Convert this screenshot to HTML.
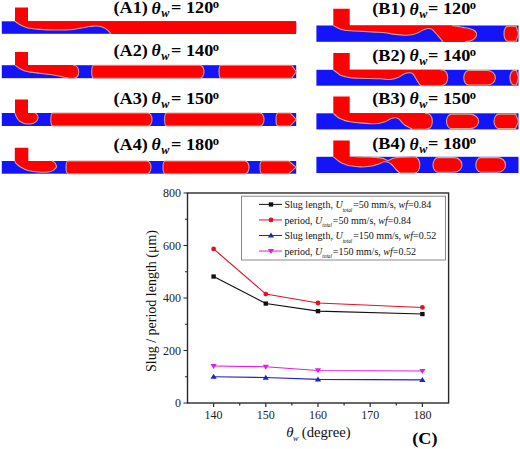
<!DOCTYPE html>
<html><head><meta charset="utf-8"><style>
html,body{margin:0;padding:0;background:#fff;}
body{width:520px;height:449px;overflow:hidden;}
svg{display:block;font-family:"Liberation Serif",serif;}
.tt{font-size:17.3px;font-weight:bold;fill:#000;}
.tl{font-size:12px;fill:#222;}
.ax{font-size:14px;fill:#111;}
.lg{font-size:10.5px;fill:#111;}
</style></head><body>
<svg width="520" height="449" viewBox="0 0 520 449">
<rect x="1.8" y="21.3" width="294.4" height="12.499999999999996" fill="#1414f8"/>
<rect x="1.8" y="65.2" width="294.4" height="13.0" fill="#1414f8"/>
<rect x="1.8" y="113.0" width="294.4" height="13.0" fill="#1414f8"/>
<rect x="1.8" y="161.0" width="294.4" height="12.699999999999989" fill="#1414f8"/>
<path d="M15,7.6 H28 V21.3 H294.2 Q296.2,21.3 296.2,23.3 V31.799999999999997 Q296.2,33.8 294.2,33.8 H111 C110.50,33.27 109.17,31.62 108.00,30.60 C106.83,29.58 105.83,28.47 104.00,27.70 C102.17,26.93 99.33,26.20 97.00,26.00 C94.67,25.80 92.83,26.12 90.00,26.50 C87.17,26.88 83.33,27.75 80.00,28.30 C76.67,28.85 74.17,29.52 70.00,29.80 C65.83,30.08 60.00,30.07 55.00,30.00 C50.00,29.93 44.17,29.68 40.00,29.40 C35.83,29.12 32.50,28.72 30.00,28.30 C27.50,27.88 26.67,27.48 25.00,26.90 C23.33,26.32 21.67,25.73 20.00,24.80 C18.33,23.87 15.83,21.88 15.00,21.30 Z" fill="#fe0000" stroke="none" stroke-width="1.1"/>
<path d="M111.00,33.80 C110.50,33.27 109.17,31.62 108.00,30.60 C106.83,29.58 105.83,28.47 104.00,27.70 C102.17,26.93 99.33,26.20 97.00,26.00 C94.67,25.80 92.83,26.12 90.00,26.50 C87.17,26.88 83.33,27.75 80.00,28.30 C76.67,28.85 74.17,29.52 70.00,29.80 C65.83,30.08 60.00,30.07 55.00,30.00 C50.00,29.93 44.17,29.68 40.00,29.40 C35.83,29.12 32.50,28.72 30.00,28.30 C27.50,27.88 26.67,27.48 25.00,26.90 C23.33,26.32 21.67,25.73 20.00,24.80 C18.33,23.87 15.83,21.88 15.00,21.30" fill="none" stroke="#cfa494" stroke-width="1.1"/>
<path d="M15,52.0 H28 V65.2 H73 C77,65.2 78.7,68.5 78.7,71.7 C78.7,75 77,78.2 73,78.2 H69 C68.50,78.10 67.50,77.93 66.00,77.60 C64.50,77.27 62.67,76.72 60.00,76.20 C57.33,75.68 53.33,74.98 50.00,74.50 C46.67,74.02 43.33,73.70 40.00,73.30 C36.67,72.90 32.50,72.48 30.00,72.10 C27.50,71.72 26.67,71.57 25.00,71.00 C23.33,70.43 21.67,69.67 20.00,68.70 C18.33,67.73 15.83,65.78 15.00,65.20 Z" fill="#fe0000" stroke="none" stroke-width="1.1"/>
<path d="M15,65.2 C15.83,65.78 18.33,67.73 20.00,68.70 C21.67,69.67 23.33,70.43 25.00,71.00 C26.67,71.57 27.50,71.72 30.00,72.10 C32.50,72.48 36.67,72.90 40.00,73.30 C43.33,73.70 46.67,74.02 50.00,74.50 C53.33,74.98 57.33,75.68 60.00,76.20 C62.67,76.72 64.50,77.27 66.00,77.60 C67.50,77.93 68.50,78.10 69.00,78.20 H73 C77,78.2 78.7,75 78.7,71.7 C78.7,68.5 77,65.2 73,65.2" fill="none" stroke="#cfa494" stroke-width="1.1"/>
<path d="M93.90,65.20 H200.00 C202.20,65.20 204.00,68.12 204.00,71.70 C204.00,75.28 202.20,78.20 200.00,78.20 H93.90 C92.69,78.20 91.70,75.28 91.70,71.70 C91.70,68.12 92.69,65.20 93.90,65.20 Z" fill="#fe0000" stroke="#cfa494" stroke-width="1.1"/>
<path d="M221.20,65.20 H291.70 L296.20,71.70 L291.70,78.20 H221.20 C219.99,78.20 219.00,75.28 219.00,71.70 C219.00,68.12 219.99,65.20 221.20,65.20 Z" fill="#fe0000" stroke="#cfa494" stroke-width="1.1"/>
<path d="M15,99.6 H28 V113.0 H35 C35.33,113.25 36.50,113.83 37.00,114.50 C37.50,115.17 38.00,116.00 38.00,117.00 C38.00,118.00 37.67,119.50 37.00,120.50 C36.33,121.50 35.17,122.42 34.00,123.00 C32.83,123.58 31.50,123.88 30.00,124.00 C28.50,124.12 26.50,124.03 25.00,123.70 C23.50,123.37 22.17,122.70 21.00,122.00 C19.83,121.30 18.83,120.50 18.00,119.50 C17.17,118.50 16.50,117.08 16.00,116.00 C15.50,114.92 15.17,113.50 15.00,113.00 Z" fill="#fe0000" stroke="none" stroke-width="1.1"/>
<path d="M15,113.0 C15.17,113.50 15.50,114.92 16.00,116.00 C16.50,117.08 17.17,118.50 18.00,119.50 C18.83,120.50 19.83,121.30 21.00,122.00 C22.17,122.70 23.50,123.37 25.00,123.70 C26.50,124.03 28.50,124.12 30.00,124.00 C31.50,123.88 32.83,123.58 34.00,123.00 C35.17,122.42 36.33,121.50 37.00,120.50 C37.67,119.50 38.00,118.00 38.00,117.00 C38.00,116.00 37.50,115.17 37.00,114.50 C36.50,113.83 35.33,113.25 35.00,113.00" fill="none" stroke="#cfa494" stroke-width="1.1"/>
<path d="M53.00,113.00 H148.00 C150.20,113.00 152.00,115.92 152.00,119.50 C152.00,123.08 150.20,126.00 148.00,126.00 H53.00 C51.79,126.00 50.80,123.08 50.80,119.50 C50.80,115.92 51.79,113.00 53.00,113.00 Z" fill="#fe0000" stroke="#cfa494" stroke-width="1.1"/>
<path d="M166.80,113.00 H260.00 C262.20,113.00 264.00,115.92 264.00,119.50 C264.00,123.08 262.20,126.00 260.00,126.00 H166.80 C165.59,126.00 164.60,123.08 164.60,119.50 C164.60,115.92 165.59,113.00 166.80,113.00 Z" fill="#fe0000" stroke="#cfa494" stroke-width="1.1"/>
<path d="M278.20,113.00 H290.20 L296.20,119.50 L290.20,126.00 H278.20 C276.99,126.00 276.00,123.08 276.00,119.50 C276.00,115.92 276.99,113.00 278.20,113.00 Z" fill="#fe0000" stroke="#cfa494" stroke-width="1.1"/>
<path d="M14.8,147.7 H28.3 V161.0 H52 C52.50,161.33 54.25,162.02 55.00,163.00 C55.75,163.98 56.67,165.77 56.50,166.90 C56.33,168.03 55.08,169.00 54.00,169.80 C52.92,170.60 52.33,171.30 50.00,171.70 C47.67,172.10 43.67,172.40 40.00,172.20 C36.33,172.00 31.33,171.40 28.00,170.50 C24.67,169.60 22.00,168.00 20.00,166.80 C18.00,165.60 16.87,164.27 16.00,163.30 C15.13,162.33 15.00,161.38 14.80,161.00 Z" fill="#fe0000" stroke="none" stroke-width="1.1"/>
<path d="M14.8,161.0 C15.00,161.38 15.13,162.33 16.00,163.30 C16.87,164.27 18.00,165.60 20.00,166.80 C22.00,168.00 24.67,169.60 28.00,170.50 C31.33,171.40 36.33,172.00 40.00,172.20 C43.67,172.40 47.67,172.10 50.00,171.70 C52.33,171.30 52.92,170.60 54.00,169.80 C55.08,169.00 56.33,168.03 56.50,166.90 C56.67,165.77 55.75,163.98 55.00,163.00 C54.25,162.02 52.50,161.33 52.00,161.00" fill="none" stroke="#cfa494" stroke-width="1.1"/>
<path d="M68.20,161.00 H147.00 C149.20,161.00 151.00,163.86 151.00,167.35 C151.00,170.84 149.20,173.70 147.00,173.70 H68.20 C66.99,173.70 66.00,170.84 66.00,167.35 C66.00,163.86 66.99,161.00 68.20,161.00 Z" fill="#fe0000" stroke="#cfa494" stroke-width="1.1"/>
<path d="M165.20,161.00 H245.00 C247.20,161.00 249.00,163.86 249.00,167.35 C249.00,170.84 247.20,173.70 245.00,173.70 H165.20 C163.99,173.70 163.00,170.84 163.00,167.35 C163.00,163.86 163.99,161.00 165.20,161.00 Z" fill="#fe0000" stroke="#cfa494" stroke-width="1.1"/>
<path d="M262.20,161.00 H288.70 L296.20,167.35 L288.70,173.70 H262.20 C260.99,173.70 260.00,170.84 260.00,167.35 C260.00,163.86 260.99,161.00 262.20,161.00 Z" fill="#fe0000" stroke="#cfa494" stroke-width="1.1"/>
<rect x="316.4" y="25.5" width="202.10000000000002" height="16.299999999999997" fill="#1414f8"/>
<rect x="316.4" y="69.8" width="202.10000000000002" height="15.900000000000006" fill="#1414f8"/>
<rect x="316.4" y="113.3" width="202.10000000000002" height="16.10000000000001" fill="#1414f8"/>
<rect x="316.4" y="156.8" width="202.10000000000002" height="16.19999999999999" fill="#1414f8"/>
<path d="M333.3,8.8 H349.7 V25.5 H452 C452.83,25.62 455.17,25.88 457.00,26.20 C458.83,26.52 460.83,26.97 463.00,27.40 C465.17,27.83 468.00,28.20 470.00,28.80 C472.00,29.40 473.92,29.88 475.00,31.00 C476.08,32.12 477.00,33.95 476.50,35.50 C476.00,37.05 473.92,39.25 472.00,40.30 C470.08,41.35 466.17,41.55 465.00,41.80 H443 C442.50,41.20 441.17,39.58 440.00,38.20 C438.83,36.82 437.33,34.97 436.00,33.50 C434.67,32.03 433.33,30.23 432.00,29.40 C430.67,28.57 429.50,28.38 428.00,28.50 C426.50,28.62 424.67,29.38 423.00,30.10 C421.33,30.82 419.83,32.02 418.00,32.80 C416.17,33.58 414.17,34.40 412.00,34.80 C409.83,35.20 407.83,35.27 405.00,35.20 C402.17,35.13 398.33,34.80 395.00,34.40 C391.67,34.00 388.33,33.18 385.00,32.80 C381.67,32.42 379.17,32.37 375.00,32.10 C370.83,31.83 364.17,31.42 360.00,31.20 C355.83,30.98 352.50,30.97 350.00,30.80 C347.50,30.63 346.67,30.50 345.00,30.20 C343.33,29.90 341.33,29.45 340.00,29.00 C338.67,28.55 338.12,28.08 337.00,27.50 C335.88,26.92 333.92,25.83 333.30,25.50 Z" fill="#fe0000" stroke="none" stroke-width="1.1"/>
<path d="M333.3,25.5 C333.92,25.83 335.88,26.92 337.00,27.50 C338.12,28.08 338.67,28.55 340.00,29.00 C341.33,29.45 343.33,29.90 345.00,30.20 C346.67,30.50 347.50,30.63 350.00,30.80 C352.50,30.97 355.83,30.98 360.00,31.20 C364.17,31.42 370.83,31.83 375.00,32.10 C379.17,32.37 381.67,32.42 385.00,32.80 C388.33,33.18 391.67,34.00 395.00,34.40 C398.33,34.80 402.17,35.13 405.00,35.20 C407.83,35.27 409.83,35.20 412.00,34.80 C414.17,34.40 416.17,33.58 418.00,32.80 C419.83,32.02 421.33,30.82 423.00,30.10 C424.67,29.38 426.50,28.62 428.00,28.50 C429.50,28.38 430.67,28.57 432.00,29.40 C433.33,30.23 434.67,32.03 436.00,33.50 C437.33,34.97 438.83,36.82 440.00,38.20 C441.17,39.58 442.50,41.20 443.00,41.80" fill="none" stroke="#cfa494" stroke-width="1.1"/>
<path d="M465.00,41.80 C466.17,41.55 470.08,41.35 472.00,40.30 C473.92,39.25 476.00,37.05 476.50,35.50 C477.00,33.95 476.08,32.12 475.00,31.00 C473.92,29.88 472.00,29.40 470.00,28.80 C468.00,28.20 465.17,27.83 463.00,27.40 C460.83,26.97 458.83,26.52 457.00,26.20 C455.17,25.88 452.83,25.62 452.00,25.50" fill="none" stroke="#cfa494" stroke-width="1.1"/>
<path d="M508.00,26.10 H516.00 L518.50,33.65 L516.00,41.20 H508.00 C505.80,41.20 504.00,37.80 504.00,33.65 C504.00,29.50 505.80,26.10 508.00,26.10 Z" fill="#fe0000" stroke="#cfa494" stroke-width="1.1"/>
<path d="M333.3,53.0 H349.7 V69.8 H440 C445,69.8 447.7,73 447.7,77.7 C447.7,82.5 445,85.7 440,85.7 H421 C420.67,85.33 419.83,84.65 419.00,83.50 C418.17,82.35 417.00,80.38 416.00,78.80 C415.00,77.22 414.17,75.00 413.00,74.00 C411.83,73.00 410.50,72.78 409.00,72.80 C407.50,72.82 405.83,73.32 404.00,74.10 C402.17,74.88 400.33,76.60 398.00,77.50 C395.67,78.40 393.00,79.28 390.00,79.50 C387.00,79.72 385.00,79.00 380.00,78.80 C375.00,78.60 365.00,78.50 360.00,78.30 C355.00,78.10 352.50,77.88 350.00,77.60 C347.50,77.32 346.67,77.05 345.00,76.60 C343.33,76.15 341.33,75.58 340.00,74.90 C338.67,74.22 338.12,73.35 337.00,72.50 C335.88,71.65 333.92,70.25 333.30,69.80 Z" fill="#fe0000" stroke="none" stroke-width="1.1"/>
<path d="M333.3,69.8 C333.92,70.25 335.88,71.65 337.00,72.50 C338.12,73.35 338.67,74.22 340.00,74.90 C341.33,75.58 343.33,76.15 345.00,76.60 C346.67,77.05 347.50,77.32 350.00,77.60 C352.50,77.88 355.00,78.10 360.00,78.30 C365.00,78.50 375.00,78.60 380.00,78.80 C385.00,79.00 387.00,79.72 390.00,79.50 C393.00,79.28 395.67,78.40 398.00,77.50 C400.33,76.60 402.17,74.88 404.00,74.10 C405.83,73.32 407.50,72.82 409.00,72.80 C410.50,72.78 411.83,73.00 413.00,74.00 C414.17,75.00 415.00,77.22 416.00,78.80 C417.00,80.38 418.17,82.35 419.00,83.50 C419.83,84.65 420.67,85.33 421.00,85.70 H440 C445,85.7 447.7,82.5 447.7,77.7 C447.7,73 445,69.8 440,69.8" fill="none" stroke="#cfa494" stroke-width="1.1"/>
<path d="M468.80,70.50 H487.40 C491.80,70.50 495.40,73.76 495.40,77.75 C495.40,81.74 491.80,85.00 487.40,85.00 H468.80 C466.05,85.00 463.80,81.74 463.80,77.75 C463.80,73.76 466.05,70.50 468.80,70.50 Z" fill="#fe0000" stroke="#cfa494" stroke-width="1.1"/>
<path d="M514.00,70.50 H516.50 L518.50,77.75 L516.50,85.00 H514.00 C511.80,85.00 510.00,81.74 510.00,77.75 C510.00,73.76 511.80,70.50 514.00,70.50 Z" fill="#fe0000" stroke="#cfa494" stroke-width="1.1"/>
<path d="M333.3,96.4 H349.7 V113.3 H425 C430,113.3 432.3,116.5 432.3,121.3 C432.3,126 430,129.4 425,129.4 H413 C412.50,129.15 411.33,128.60 410.00,127.90 C408.67,127.20 406.33,126.10 405.00,125.20 C403.67,124.30 403.00,123.52 402.00,122.50 C401.00,121.48 400.17,119.88 399.00,119.10 C397.83,118.32 396.50,117.80 395.00,117.80 C393.50,117.80 391.67,118.43 390.00,119.10 C388.33,119.77 387.50,121.02 385.00,121.80 C382.50,122.58 379.17,123.62 375.00,123.80 C370.83,123.98 364.17,123.25 360.00,122.90 C355.83,122.55 352.50,122.08 350.00,121.70 C347.50,121.32 346.67,121.12 345.00,120.60 C343.33,120.08 341.33,119.27 340.00,118.60 C338.67,117.93 338.12,117.48 337.00,116.60 C335.88,115.72 333.92,113.85 333.30,113.30 Z" fill="#fe0000" stroke="none" stroke-width="1.1"/>
<path d="M333.3,113.3 C333.92,113.85 335.88,115.72 337.00,116.60 C338.12,117.48 338.67,117.93 340.00,118.60 C341.33,119.27 343.33,120.08 345.00,120.60 C346.67,121.12 347.50,121.32 350.00,121.70 C352.50,122.08 355.83,122.55 360.00,122.90 C364.17,123.25 370.83,123.98 375.00,123.80 C379.17,123.62 382.50,122.58 385.00,121.80 C387.50,121.02 388.33,119.77 390.00,119.10 C391.67,118.43 393.50,117.80 395.00,117.80 C396.50,117.80 397.83,118.32 399.00,119.10 C400.17,119.88 401.00,121.48 402.00,122.50 C403.00,123.52 403.67,124.30 405.00,125.20 C406.33,126.10 408.67,127.20 410.00,127.90 C411.33,128.60 412.50,129.15 413.00,129.40 H425 C430,129.4 432.3,126 432.3,121.3 C432.3,116.5 430,113.3 425,113.3" fill="none" stroke="#cfa494" stroke-width="1.1"/>
<path d="M451.50,114.10 H469.70 C474.65,114.10 478.70,117.36 478.70,121.35 C478.70,125.34 474.65,128.60 469.70,128.60 H451.50 C448.75,128.60 446.50,125.34 446.50,121.35 C446.50,117.36 448.75,114.10 451.50,114.10 Z" fill="#fe0000" stroke="#cfa494" stroke-width="1.1"/>
<path d="M499.00,114.10 H515.50 L518.50,121.35 L515.50,128.60 H499.00 C496.25,128.60 494.00,125.34 494.00,121.35 C494.00,117.36 496.25,114.10 499.00,114.10 Z" fill="#fe0000" stroke="#cfa494" stroke-width="1.1"/>
<path d="M333.3,140.4 H349.7 V156.8 H355 C356.67,156.83 361.50,156.90 365.00,157.00 C368.50,157.10 373.00,157.17 376.00,157.40 C379.00,157.63 381.00,157.88 383.00,158.40 C385.00,158.92 386.33,160.53 388.00,160.50 C389.67,160.47 391.00,158.73 393.00,158.20 C395.00,157.67 396.50,157.53 400.00,157.30 C403.50,157.07 411.67,156.88 414.00,156.80 C418,156.8 419.8,161 419.8,165 C419.8,169 418,173.0 414,173.0 H400 C399.50,172.58 398.00,171.50 397.00,170.50 C396.00,169.50 395.00,168.08 394.00,167.00 C393.00,165.92 392.00,164.80 391.00,164.00 C390.00,163.20 389.17,162.57 388.00,162.20 C386.83,161.83 385.67,161.47 384.00,161.80 C382.33,162.13 380.33,163.45 378.00,164.20 C375.67,164.95 373.00,165.85 370.00,166.30 C367.00,166.75 363.33,167.00 360.00,166.90 C356.67,166.80 352.50,166.13 350.00,165.70 C347.50,165.27 346.67,164.93 345.00,164.30 C343.33,163.67 341.33,162.63 340.00,161.90 C338.67,161.17 338.12,160.75 337.00,159.90 C335.88,159.05 333.92,157.32 333.30,156.80 Z" fill="#fe0000" stroke="none" stroke-width="1.1"/>
<path d="M333.3,156.8 C333.92,157.32 335.88,159.05 337.00,159.90 C338.12,160.75 338.67,161.17 340.00,161.90 C341.33,162.63 343.33,163.67 345.00,164.30 C346.67,164.93 347.50,165.27 350.00,165.70 C352.50,166.13 356.67,166.80 360.00,166.90 C363.33,167.00 367.00,166.75 370.00,166.30 C373.00,165.85 375.67,164.95 378.00,164.20 C380.33,163.45 382.33,162.13 384.00,161.80 C385.67,161.47 386.83,161.83 388.00,162.20 C389.17,162.57 390.00,163.20 391.00,164.00 C392.00,164.80 393.00,165.92 394.00,167.00 C395.00,168.08 396.00,169.50 397.00,170.50 C398.00,171.50 399.50,172.58 400.00,173.00 H414 C418,173.0 419.8,169 419.8,165 C419.8,161 418,156.8 414,156.8 C411.67,156.88 403.50,157.07 400.00,157.30 C396.50,157.53 395.00,157.67 393.00,158.20 C391.00,158.73 389.67,160.47 388.00,160.50 C386.33,160.53 385.00,158.92 383.00,158.40 C381.00,157.88 379.00,157.63 376.00,157.40 C373.00,157.17 368.50,157.10 365.00,157.00 C361.50,156.90 356.67,156.83 355.00,156.80" fill="none" stroke="#cfa494" stroke-width="1.1"/>
<path d="M438.00,157.60 H454.00 C458.40,157.60 462.00,160.89 462.00,164.90 C462.00,168.91 458.40,172.20 454.00,172.20 H438.00 C435.25,172.20 433.00,168.91 433.00,164.90 C433.00,160.89 435.25,157.60 438.00,157.60 Z" fill="#fe0000" stroke="#cfa494" stroke-width="1.1"/>
<path d="M480.80,157.60 H497.60 C502.00,157.60 505.60,160.89 505.60,164.90 C505.60,168.91 502.00,172.20 497.60,172.20 H480.80 C478.05,172.20 475.80,168.91 475.80,164.90 C475.80,160.89 478.05,157.60 480.80,157.60 Z" fill="#fe0000" stroke="#cfa494" stroke-width="1.1"/>
<text transform="translate(113.50,13.20) scale(1.05,1)" class="tt" >(A1)</text>
<text transform="translate(151.50,13.60) scale(1.05,1)" class="tt" style="font-style:italic;font-size:16.8px">&#952;</text>
<text transform="translate(161.30,17.20) scale(1.05,1)" class="tt" style="font-style:italic;font-size:11.6px">w</text>
<text transform="translate(171.00,13.20) scale(1.05,1)" class="tt" >=</text>
<text transform="translate(186.00,13.20) scale(1.05,1)" class="tt" >120</text>
<text transform="translate(212.80,7.80) scale(1.05,1)" class="tt" style="font-size:12px">o</text>
<text transform="translate(113.50,56.00) scale(1.05,1)" class="tt" >(A2)</text>
<text transform="translate(151.50,56.40) scale(1.05,1)" class="tt" style="font-style:italic;font-size:16.8px">&#952;</text>
<text transform="translate(161.30,60.00) scale(1.05,1)" class="tt" style="font-style:italic;font-size:11.6px">w</text>
<text transform="translate(171.00,56.00) scale(1.05,1)" class="tt" >=</text>
<text transform="translate(186.00,56.00) scale(1.05,1)" class="tt" >140</text>
<text transform="translate(212.80,50.60) scale(1.05,1)" class="tt" style="font-size:12px">o</text>
<text transform="translate(113.50,104.00) scale(1.05,1)" class="tt" >(A3)</text>
<text transform="translate(151.50,104.40) scale(1.05,1)" class="tt" style="font-style:italic;font-size:16.8px">&#952;</text>
<text transform="translate(161.30,108.00) scale(1.05,1)" class="tt" style="font-style:italic;font-size:11.6px">w</text>
<text transform="translate(171.00,104.00) scale(1.05,1)" class="tt" >=</text>
<text transform="translate(186.00,104.00) scale(1.05,1)" class="tt" >150</text>
<text transform="translate(212.80,98.60) scale(1.05,1)" class="tt" style="font-size:12px">o</text>
<text transform="translate(113.50,150.00) scale(1.05,1)" class="tt" >(A4)</text>
<text transform="translate(151.50,150.40) scale(1.05,1)" class="tt" style="font-style:italic;font-size:16.8px">&#952;</text>
<text transform="translate(161.30,154.00) scale(1.05,1)" class="tt" style="font-style:italic;font-size:11.6px">w</text>
<text transform="translate(171.00,150.00) scale(1.05,1)" class="tt" >=</text>
<text transform="translate(186.00,150.00) scale(1.05,1)" class="tt" >180</text>
<text transform="translate(212.80,144.60) scale(1.05,1)" class="tt" style="font-size:12px">o</text>
<text transform="translate(372.30,14.30) scale(1.05,1)" class="tt" >(B1)</text>
<text transform="translate(409.50,14.70) scale(1.05,1)" class="tt" style="font-style:italic;font-size:16.8px">&#952;</text>
<text transform="translate(419.30,18.30) scale(1.05,1)" class="tt" style="font-style:italic;font-size:11.6px">w</text>
<text transform="translate(428.00,14.30) scale(1.05,1)" class="tt" >=</text>
<text transform="translate(443.00,14.30) scale(1.05,1)" class="tt" >120</text>
<text transform="translate(469.80,8.90) scale(1.05,1)" class="tt" style="font-size:12px">o</text>
<text transform="translate(372.30,61.00) scale(1.05,1)" class="tt" >(B2)</text>
<text transform="translate(409.50,61.40) scale(1.05,1)" class="tt" style="font-style:italic;font-size:16.8px">&#952;</text>
<text transform="translate(419.30,65.00) scale(1.05,1)" class="tt" style="font-style:italic;font-size:11.6px">w</text>
<text transform="translate(428.00,61.00) scale(1.05,1)" class="tt" >=</text>
<text transform="translate(443.00,61.00) scale(1.05,1)" class="tt" >140</text>
<text transform="translate(469.80,55.60) scale(1.05,1)" class="tt" style="font-size:12px">o</text>
<text transform="translate(372.30,104.00) scale(1.05,1)" class="tt" >(B3)</text>
<text transform="translate(409.50,104.40) scale(1.05,1)" class="tt" style="font-style:italic;font-size:16.8px">&#952;</text>
<text transform="translate(419.30,108.00) scale(1.05,1)" class="tt" style="font-style:italic;font-size:11.6px">w</text>
<text transform="translate(428.00,104.00) scale(1.05,1)" class="tt" >=</text>
<text transform="translate(443.00,104.00) scale(1.05,1)" class="tt" >150</text>
<text transform="translate(469.80,98.60) scale(1.05,1)" class="tt" style="font-size:12px">o</text>
<text transform="translate(372.30,149.40) scale(1.05,1)" class="tt" >(B4)</text>
<text transform="translate(409.50,149.80) scale(1.05,1)" class="tt" style="font-style:italic;font-size:16.8px">&#952;</text>
<text transform="translate(419.30,153.40) scale(1.05,1)" class="tt" style="font-style:italic;font-size:11.6px">w</text>
<text transform="translate(428.00,149.40) scale(1.05,1)" class="tt" >=</text>
<text transform="translate(443.00,149.40) scale(1.05,1)" class="tt" >180</text>
<text transform="translate(469.80,144.00) scale(1.05,1)" class="tt" style="font-size:12px">o</text>
<rect x="187.5" y="193" width="261.1" height="210" fill="none" stroke="#2a2a2a" stroke-width="1.4"/>
<path d="M187.5,403.00 h-4 M187.5,376.75 h-2.5 M187.5,350.50 h-4 M187.5,324.25 h-2.5 M187.5,298.00 h-4 M187.5,271.75 h-2.5 M187.5,245.50 h-4 M187.5,219.25 h-2.5 M187.5,193.00 h-4 M213.60,403 v4 M239.70,403 v2.5 M265.80,403 v4 M291.90,403 v2.5 M318.00,403 v4 M344.10,403 v2.5 M370.20,403 v4 M396.30,403 v2.5 M422.40,403 v4 " stroke="#2a2a2a" stroke-width="1.2" fill="none"/>
<text x="181" y="407.00" class="tl" text-anchor="end">0</text>
<text x="181" y="354.50" class="tl" text-anchor="end">200</text>
<text x="181" y="302.00" class="tl" text-anchor="end">400</text>
<text x="181" y="249.50" class="tl" text-anchor="end">600</text>
<text x="181" y="197.00" class="tl" text-anchor="end">800</text>
<text x="213.60" y="418.7" class="tl" text-anchor="middle">140</text>
<text x="265.80" y="418.7" class="tl" text-anchor="middle">150</text>
<text x="318.00" y="418.7" class="tl" text-anchor="middle">160</text>
<text x="370.20" y="418.7" class="tl" text-anchor="middle">170</text>
<text x="422.40" y="418.7" class="tl" text-anchor="middle">180</text>
<text transform="translate(155.5,301) rotate(-90)" class="ax" text-anchor="middle">Slug / period length (&#956;m)</text>
<text transform="translate(286.3,437.2) scale(1.08,1)" class="ax" style="font-style:italic;font-size:13.6px">&#952;</text>
<text transform="translate(293,440.8) scale(1.08,1)" class="ax" style="font-style:italic;font-size:7.5px">w</text>
<text transform="translate(301.8,437.2) scale(1.08,1)" class="ax" style="font-size:13.6px">(degree)</text>
<text transform="translate(412.30,444.20) scale(1.05,1)" class="tt" >(C)</text>
<polyline points="213.60,276.48 265.80,303.51 318.00,311.12 422.40,314.01" fill="none" stroke="#111111" stroke-width="1.15"/>
<rect x="211.40" y="274.38" width="4.4" height="4.3" fill="#111111"/>
<rect x="263.60" y="301.41" width="4.4" height="4.3" fill="#111111"/>
<rect x="315.80" y="309.02" width="4.4" height="4.3" fill="#111111"/>
<rect x="420.20" y="311.91" width="4.4" height="4.3" fill="#111111"/>
<polyline points="213.60,248.91 265.80,294.06 318.00,302.99 422.40,307.45" fill="none" stroke="#dc1424" stroke-width="1.15"/>
<circle cx="213.60" cy="248.91" r="2.4" fill="#dc1424"/>
<circle cx="265.80" cy="294.06" r="2.4" fill="#dc1424"/>
<circle cx="318.00" cy="302.99" r="2.4" fill="#dc1424"/>
<circle cx="422.40" cy="307.45" r="2.4" fill="#dc1424"/>
<polyline points="213.60,376.75 265.80,377.54 318.00,379.38 422.40,379.90" fill="none" stroke="#2222c4" stroke-width="1.15"/>
<path d="M213.60,373.85 L216.70,378.85 L210.50,378.85 Z" fill="#2222c4"/>
<path d="M265.80,374.64 L268.90,379.64 L262.70,379.64 Z" fill="#2222c4"/>
<path d="M318.00,376.48 L321.10,381.48 L314.90,381.48 Z" fill="#2222c4"/>
<path d="M422.40,377.00 L425.50,382.00 L419.30,382.00 Z" fill="#2222c4"/>
<polyline points="213.60,365.99 265.80,366.77 318.00,370.45 422.40,370.98" fill="none" stroke="#e020e0" stroke-width="1.15"/>
<path d="M213.60,368.89 L216.70,363.89 L210.50,363.89 Z" fill="#e020e0"/>
<path d="M265.80,369.67 L268.90,364.67 L262.70,364.67 Z" fill="#e020e0"/>
<path d="M318.00,373.35 L321.10,368.35 L314.90,368.35 Z" fill="#e020e0"/>
<path d="M422.40,373.88 L425.50,368.88 L419.30,368.88 Z" fill="#e020e0"/>
<rect x="241.5" y="196.2" width="204" height="63.8" fill="#fff" stroke="#8a8a8a" stroke-width="1"/>
<line x1="259" y1="204.40" x2="282" y2="204.40" stroke="#111111" stroke-width="1"/>
<rect x="268.80" y="202.30" width="4.4" height="4.3" fill="#111111"/>
<text transform="translate(284.5,208.00) scale(0.955,1)" class="lg">Slug length, <tspan font-style="italic">U</tspan><tspan font-style="italic" font-size="5.5" dy="3.6">total</tspan><tspan dy="-3.6" dx="1">=50 mm/s, </tspan><tspan font-style="italic">wf</tspan>=0.84</text>
<line x1="259" y1="219.95" x2="282" y2="219.95" stroke="#dc1424" stroke-width="1"/>
<circle cx="271.00" cy="219.95" r="2.4" fill="#dc1424"/>
<text transform="translate(284.5,223.55) scale(0.955,1)" class="lg">period, <tspan font-style="italic">U</tspan><tspan font-style="italic" font-size="5.5" dy="3.6">total</tspan><tspan dy="-3.6" dx="1">=50 mm/s, </tspan><tspan font-style="italic">wf</tspan>=0.84</text>
<line x1="259" y1="235.50" x2="282" y2="235.50" stroke="#2222c4" stroke-width="1"/>
<path d="M271.00,232.60 L274.10,237.60 L267.90,237.60 Z" fill="#2222c4"/>
<text transform="translate(284.5,239.10) scale(0.955,1)" class="lg">Slug length, <tspan font-style="italic">U</tspan><tspan font-style="italic" font-size="5.5" dy="3.6">total</tspan><tspan dy="-3.6" dx="1">=150 mm/s, </tspan><tspan font-style="italic">wf</tspan>=0.52</text>
<line x1="259" y1="251.05" x2="282" y2="251.05" stroke="#e020e0" stroke-width="1"/>
<path d="M271.00,253.95 L274.10,248.95 L267.90,248.95 Z" fill="#e020e0"/>
<text transform="translate(284.5,254.65) scale(0.955,1)" class="lg">period, <tspan font-style="italic">U</tspan><tspan font-style="italic" font-size="5.5" dy="3.6">total</tspan><tspan dy="-3.6" dx="1">=150 mm/s, </tspan><tspan font-style="italic">wf</tspan>=0.52</text>
</svg>
</body></html>
